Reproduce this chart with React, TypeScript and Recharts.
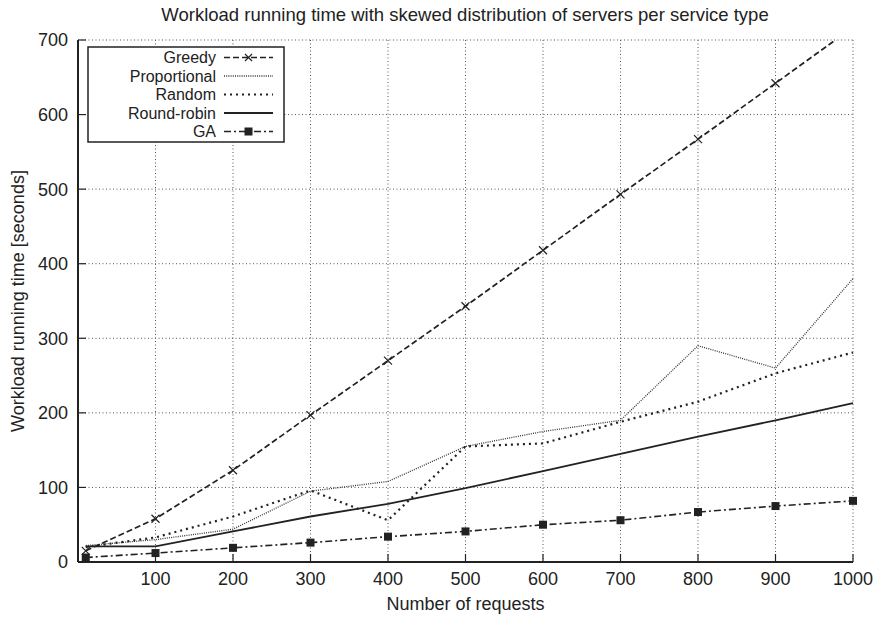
import { LineChart, Line, XAxis, YAxis, CartesianGrid } from 'recharts';

// number of requests
const requests = [10, 100, 200, 300, 400, 500, 600, 700, 800, 900, 1000];

// running time in seconds
const greedy = [15, 58, 123, 197, 270, 343, 418, 493, 567, 642, 717];
const proportional = [22, 30, 44, 95, 108, 155, 175, 190, 290, 260, 380];
const random = [20, 33, 61, 96, 56, 155, 159, 188, 215, 253, 281];
const roundRobin = [21, 21, 41, 61, 78, 99, 122, 145, 168, 190, 213];
const ga = [6, 12, 19, 26, 34, 41, 50, 56, 67, 75, 82];

const xTicks = [100, 200, 300, 400, 500, 600, 700, 800, 900, 1000];
const yTicks = [0, 100, 200, 300, 400, 500, 600, 700];

const data = requests.map((x, i) => ({
  x,
  greedy: greedy[i],
  proportional: proportional[i],
  random: random[i],
  roundRobin: roundRobin[i],
  ga: ga[i],
}));

const INK = '#222';
const FONT = '"Liberation Sans", Arial, Helvetica, sans-serif';

function crossPath(cx: number, cy: number, s = 4) {
  return `M${cx - s},${cy - s}L${cx + s},${cy + s}M${cx - s},${cy + s}L${cx + s},${cy - s}`;
}

const CrossDot = (p: any) => {
  if (p.cx == null || p.cy == null) return <g key={`c-${p.index}`} />;
  return (
    <path key={`c-${p.index}`} d={crossPath(p.cx, p.cy)} stroke={INK} strokeWidth={1.2} fill="none" />
  );
};

const SquareDot = (p: any) => {
  if (p.cx == null || p.cy == null) return <g key={`s-${p.index}`} />;
  return <rect key={`s-${p.index}`} x={p.cx - 4} y={p.cy - 4} width={8} height={8} fill={INK} />;
};

const series = [
  { key: 'greedy', name: 'Greedy', dash: '6 3', width: 1.7, marker: 'cross' },
  { key: 'proportional', name: 'Proportional', dash: '1 1.2', width: 1.3, marker: null },
  { key: 'random', name: 'Random', dash: '2 4', width: 2.2, marker: null },
  { key: 'roundRobin', name: 'Round-robin', dash: undefined, width: 1.8, marker: null },
  { key: 'ga', name: 'GA', dash: '7 3 2 3', width: 1.6, marker: 'square' },
];

function LegendBox() {
  const rowH = 18.5;
  return (
    <svg
      width={198}
      height={97}
      style={{ position: 'absolute', left: 87, top: 46 }}
    >
      <rect x={1} y={1} width={196} height={95} fill="#fff" stroke={INK} strokeWidth={1.5} />
      {series.map((s, i) => {
        const y = 11.5 + i * rowH;
        return (
          <g key={s.key}>
            <text
              x={129}
              y={y}
              textAnchor="end"
              dominantBaseline="central"
              fontSize={16}
              fontFamily={FONT}
              fill={INK}
            >
              {s.name}
            </text>
            <line
              x1={137}
              x2={186}
              y1={y}
              y2={y}
              stroke={s.key === 'proportional' ? '#333' : INK}
              strokeWidth={s.width}
              strokeDasharray={s.dash}
            />
            {s.marker === 'cross' && (
              <path d={crossPath(161.5, y, 3.5)} stroke={INK} strokeWidth={1.2} fill="none" />
            )}
            {s.marker === 'square' && <rect x={157.5} y={y - 4} width={8} height={8} fill={INK} />}
          </g>
        );
      })}
    </svg>
  );
}

export default function App() {
  const tickStyle = { fontSize: 18, fill: INK, fontFamily: FONT };
  return (
    <div
      style={{
        position: 'absolute',
        left: 0,
        top: 0,
        width: 880,
        height: 619,
        background: '#fff',
        fontFamily: FONT,
      }}
    >
      <LineChart
        width={880}
        height={619}
        data={data}
        margin={{ top: 40, right: 27, bottom: 0, left: 0 }}
      >
        <CartesianGrid stroke="#555" strokeDasharray="1 2.5" strokeWidth={1} />
        <XAxis
          dataKey="x"
          type="number"
          domain={[0, 1000]}
          ticks={xTicks}
          height={57}
          tickSize={-8}
          tickMargin={18}
          tick={tickStyle}
          axisLine={{ stroke: INK, strokeWidth: 2 }}
          tickLine={{ stroke: INK, strokeWidth: 1.2 }}
        />
        <XAxis
          xAxisId="top"
          orientation="top"
          dataKey="x"
          type="number"
          domain={[0, 1000]}
          ticks={xTicks}
          height={0}
          tickSize={-8}
          tick={() => <g />}
          axisLine={{ stroke: INK, strokeWidth: 2 }}
          tickLine={{ stroke: INK, strokeWidth: 1.2 }}
        />
        <YAxis
          type="number"
          domain={[0, 700]}
          ticks={yTicks}
          allowDataOverflow
          width={78}
          tickSize={-8}
          tickMargin={18}
          tick={tickStyle}
          axisLine={{ stroke: INK, strokeWidth: 2 }}
          tickLine={{ stroke: INK, strokeWidth: 1.2 }}
        />
        <YAxis
          yAxisId="right"
          orientation="right"
          type="number"
          domain={[0, 700]}
          ticks={yTicks}
          allowDataOverflow
          width={0}
          tickSize={-8}
          tick={() => <g />}
          axisLine={{ stroke: INK, strokeWidth: 2 }}
          tickLine={{ stroke: INK, strokeWidth: 1.2 }}
        />
        {series.map((s) => (
          <Line
            key={s.key}
            dataKey={s.key}
            name={s.name}
            type="linear"
            stroke={s.key === 'proportional' ? '#333' : INK}
            strokeWidth={s.width}
            strokeDasharray={s.dash}
            dot={s.marker === 'cross' ? CrossDot : s.marker === 'square' ? SquareDot : false}
            activeDot={false}
            isAnimationActive={false}
          />
        ))}
      </LineChart>

      <div
        style={{
          position: 'absolute',
          left: 0,
          width: 930,
          top: 4,
          textAlign: 'center',
          fontSize: 18.5,
          color: INK,
          whiteSpace: 'nowrap',
        }}
      >
        Workload running time with skewed distribution of servers per service type
      </div>
      <div
        style={{
          position: 'absolute',
          left: 78,
          width: 775,
          top: 594,
          textAlign: 'center',
          fontSize: 18,
          color: INK,
        }}
      >
        Number of requests
      </div>
      <div
        style={{
          position: 'absolute',
          left: 18,
          top: 301,
          transform: 'translate(-50%, -50%) rotate(-90deg)',
          fontSize: 18,
          color: INK,
          whiteSpace: 'nowrap',
        }}
      >
        Workload running time [seconds]
      </div>
      <LegendBox />
    </div>
  );
}
